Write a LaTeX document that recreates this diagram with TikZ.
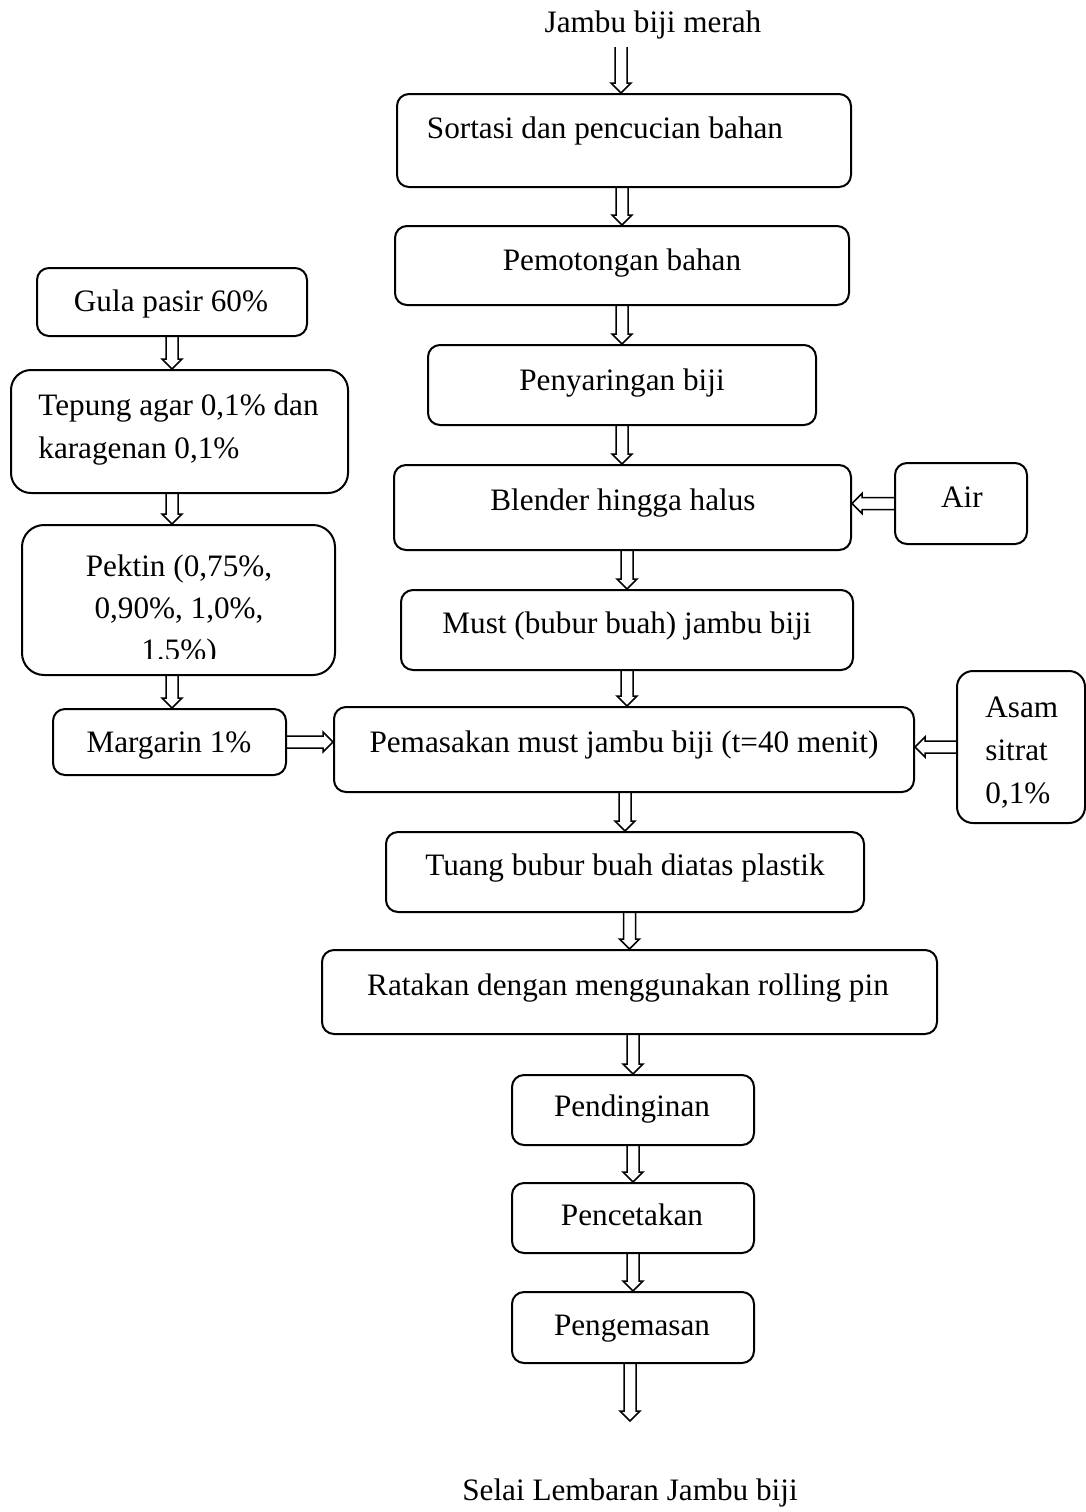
\documentclass[tikz,border=0pt]{standalone}
\usepackage{fontspec}
\setmainfont{Liberation Serif}
\usetikzlibrary{calc,fit}
\begin{document}
\begin{tikzpicture}[x=0.5pt,y=-0.5pt,
  box/.style={draw, line width=1pt, rounded corners=6pt, inner sep=0pt},
  lbl/.style={anchor=base, inner sep=0pt, font=\fontsize{15.6}{21.3}\selectfont},
  fatarrow/.style={line width=0.75pt, line join=miter, to path={
    ($(\tikztostart)!3pt!90:(\tikztotarget)$) --
    ($(\tikztotarget)!5pt!(\tikztostart)!3pt!90:(\tikztotarget)$) --
    ($(\tikztotarget)!5pt!(\tikztostart)!5pt!90:(\tikztotarget)$) --
    (\tikztotarget) --
    ($(\tikztotarget)!5pt!(\tikztostart)!5pt!-90:(\tikztotarget)$) --
    ($(\tikztotarget)!5pt!(\tikztostart)!3pt!-90:(\tikztotarget)$) --
    ($(\tikztostart)!3pt!-90:(\tikztotarget)$)}}]
\useasboundingbox (0,0) rectangle (1086,1512);

% main column boxes
\node[box, fit={(397,94) (851,187)}] (b1) {};
\node[box, fit={(395,226) (849,305)}] (b2) {};
\node[box, fit={(428,345) (816,425)}] (b3) {};
\node[box, fit={(394,465) (851,550)}] (b4) {};
\node[box, fit={(401,590) (853,670)}] (b5) {};
\node[box, fit={(334,707) (914,792)}] (b6) {};
\node[box, fit={(386,832) (864,912)}] (b7) {};
\node[box, fit={(322,950) (937,1034)}] (b8) {};
\node[box, fit={(512,1075) (754,1145)}] (b9) {};
\node[box, fit={(512,1183) (754,1253)}] (b10) {};
\node[box, fit={(512,1292) (754,1363)}] (b11) {};

% side boxes
\node[box, fit={(895,463) (1027,544)}] (air) {};
\node[box, rounded corners=8pt, fit={(957,671) (1085,823)}] (asam) {};
\node[box, fit={(37,268) (307,336)}] (gula) {};
\node[box, rounded corners=10pt, fit={(11,370) (348,493)}] (tep) {};
\node[box, rounded corners=11pt, fit={(22,525) (335,675)}] (pek) {};
\node[box, fit={(53,709) (286,775)}] (marg) {};

% labels
\node[lbl] (t0) at (653,32) {Jambu biji merah};
\node[lbl] (l1) at (605,138) {Sortasi dan pencucian bahan};
\node[lbl] (l2) at (622,270) {Pemotongan bahan};
\node[lbl] (l3) at (622,390) {Penyaringan biji};
\node[lbl] (l4) at (623,510) {Blender hingga halus};
\node[lbl] (lair) at (962,507) {Air};
\node[lbl] (l5) at (627,633) {Must (bubur buah) jambu biji};
\node[lbl] (l6) at (624,752) {Pemasakan must jambu biji (t=40 menit)};
\node[lbl] (l7) at (625,875) {Tuang bubur buah diatas plastik};
\node[lbl] (l8) at (628,995) {Ratakan dengan menggunakan rolling pin};
\node[lbl] (l9) at (632,1116) {Pendinginan};
\node[lbl] (l10) at (632,1225) {Pencetakan};
\node[lbl] (l11) at (632,1335) {Pengemasan};
\node[lbl] (lend) at (630,1500) {Selai Lembaran Jambu biji};
\node[lbl] (lgula) at (171,311) {Gula pasir 60\%};
\node[lbl, anchor=base west, align=left, font=\fontsize{15.6}{21.5}\selectfont] (ltep) at (38,458) {Tepung agar 0,1\% dan\\karagenan 0,1\%};
\begin{scope}
\clip (22,525) rectangle (335,658);
\node[lbl, align=center, font=\fontsize{15.6}{21}\selectfont] (lpek) at (179,660) {Pektin (0,75\%,\\0,90\%, 1,0\%,\\1.5\%)};
\end{scope}
\node[lbl] (lmarg) at (169,752) {Margarin 1\%};
\node[lbl, anchor=base west, align=left, font=\fontsize{15.6}{21.3}\selectfont] (lasam) at (985,803) {Asam\\sitrat\\0,1\%};

% arrows
\coordinate (a0) at (621,47);
\coordinate (aend) at (630,1421);
\draw[fatarrow] (a0) to (a0 |- b1.north);
\draw[fatarrow] (b1.south -| b2.north) to (b2.north);
\draw[fatarrow] (b2.south) to (b2.south |- b3.north);
\draw[fatarrow] (b3.south) to (b3.south |- b4.north);
\draw[fatarrow] (b5.north |- b4.south) to (b5.north);
\draw[fatarrow] (b5.south) to (b5.south |- b6.north);
\draw[fatarrow] (b7.north |- b6.south) to (b7.north);
\draw[fatarrow] (b8.north |- b7.south) to (b8.north);
\draw[fatarrow] (b9.north |- b8.south) to (b9.north);
\draw[fatarrow] (b9.south) to (b10.north);
\draw[fatarrow] (b10.south) to (b11.north);
\draw[fatarrow] (b11.south -| aend) to (aend);
\draw[fatarrow] (air.west) to (air.west -| b4.east);
\draw[fatarrow] (asam.west) to (asam.west -| b6.east);
\draw[fatarrow] (marg.east) to (marg.east -| b6.west);
\draw[fatarrow] (gula.south) to (gula.south |- tep.north);
\draw[fatarrow] (tep.south -| gula.south) to (gula.south |- pek.north);
\draw[fatarrow] (pek.south -| gula.south) to (gula.south |- marg.north);
\end{tikzpicture}
\end{document}
